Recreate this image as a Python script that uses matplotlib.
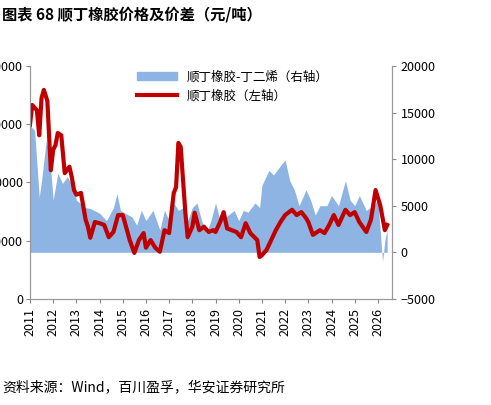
import matplotlib
matplotlib.use("Agg")
import matplotlib.pyplot as plt
from matplotlib.lines import Line2D

plt.rcParams['font.family'] = ['Noto Sans CJK SC', 'DejaVu Sans']

red_x = [2011.0,2011.1,2011.3,2011.4,2011.5,2011.6,2011.75,2011.9,2012.0,2012.1,2012.2,2012.35,2012.5,2012.7,2012.8,2012.9,
         2013.0,2013.2,2013.4,2013.5,2013.6,2013.8,2014.0,2014.2,2014.4,2014.6,2014.8,2015.0,2015.1,2015.3,2015.5,2015.7,2015.9,
         2016.0,2016.2,2016.4,2016.6,2016.8,2017.0,2017.2,2017.3,2017.4,2017.5,2017.6,2017.7,2017.8,2018.0,2018.1,2018.3,2018.5,
         2018.7,2018.9,2019.0,2019.2,2019.35,2019.5,2019.7,2019.9,2020.1,2020.3,2020.5,2020.7,2020.8,2020.9,2021.0,2021.2,2021.4,
         2021.6,2021.8,2022.0,2022.3,2022.5,2022.7,2022.9,2023.0,2023.2,2023.5,2023.7,2023.9,2024.1,2024.3,2024.6,2024.8,2025.0,
         2025.2,2025.5,2025.7,2025.9,2026.1,2026.3,2026.4]
red_y = [29900,33300,32400,28100,34500,35900,34000,22100,25600,26400,28500,28100,21600,22700,21000,18700,
         17900,18200,13600,12400,10500,13200,13000,12700,10600,11500,14400,14400,13000,10100,7900,10100,11300,
         8800,10100,8800,8100,11800,11300,18200,19200,26800,26100,20400,14800,10600,12400,14800,11800,12400,
         11500,11800,11500,13200,14900,12100,11800,11500,10600,13000,11300,10500,10100,7200,7500,8400,10100,
         11800,13200,14400,15300,14400,14900,13900,13200,11000,11800,11300,12700,14400,12700,15300,14400,14900,
         13200,11500,13600,18700,16100,11800,12700]

sp_x = [2011.0,2011.2,2011.4,2011.5,2011.7,2011.85,2012.0,2012.2,2012.4,2012.6,2012.9,2013.0,2013.4,2013.6,2014.0,2014.3,
        2014.6,2014.75,2014.9,2015.1,2015.4,2015.6,2015.8,2016.0,2016.3,2016.6,2016.8,2017.0,2017.2,2017.4,2017.6,2017.8,
        2018.0,2018.2,2018.4,2018.6,2018.8,2019.0,2019.2,2019.5,2019.8,2020.0,2020.2,2020.4,2020.7,2020.9,2021.0,2021.3,
        2021.5,2021.8,2022.0,2022.2,2022.4,2022.6,2022.9,2023.1,2023.3,2023.5,2023.8,2024.0,2024.3,2024.6,2024.8,2025.0,
        2025.2,2025.5,2025.8,2026.0,2026.2,2026.3,2026.4]
sp_y = [13600,13100,5900,7700,12000,10400,5600,8500,7400,8100,7000,5600,4800,4700,4200,3400,
        4800,6300,4500,4200,3800,2900,4500,3400,4500,2400,4500,3400,5300,4500,4800,3400,
        4800,5300,3400,2000,3400,5300,3400,3900,4500,3400,4500,4300,5300,4800,7200,8800,
        8300,9300,9900,7700,6700,5000,6700,5600,4000,5000,5000,6100,5000,7700,5600,5000,
        6100,4500,5000,5600,-1000,1300,2400]

years = list(range(2011, 2027))

fig = plt.figure(figsize=(4.91, 4.05), dpi=100)
ax = fig.add_axes([0.061, 0.262, 0.737, 0.575])
ax2 = ax.twinx()
ax.set_zorder(2); ax.patch.set_visible(False)

ax2.fill_between(sp_x, 0, sp_y, color='#8db4e2', lw=0)
ax.plot(red_x, red_y, color='#c00000', lw=3)

ax.set_xlim(2011, 2026.6)
ax.set_ylim(0, 40000)
ax.set_yticks(range(0, 40001, 10000))
ax2.set_ylim(-5000, 20000)
ax2.set_yticks(range(-5000, 20001, 5000))
ax.set_xticks(years)
ax.set_xticklabels([str(y) for y in years], rotation=90, fontsize=9)
for a in (ax, ax2):
    a.spines['top'].set_visible(False)
    a.tick_params(labelsize=9, color='#888888', length=3)
    for s in ('left', 'right', 'bottom'):
        a.spines[s].set_color('#999999')
ax.tick_params(axis='y', pad=2)

handles = [plt.Rectangle((0, 0), 1, 1, color='#8db4e2'), Line2D([], [], color='#c00000', lw=3)]
ax.legend(handles, ['顺丁橡胶-丁二烯（右轴）', '顺丁橡胶（左轴）'], loc='upper center',
          bbox_to_anchor=(0.56, 1.03), frameon=False, fontsize=9, handlelength=3.2)

fig.text(0.005, 0.965, '图表 68 顺丁橡胶价格及价差（元/吨）', fontsize=11, fontweight='bold', va='center')
fig.text(0.005, 0.045, '资料来源：Wind，百川盈孚，华安证券研究所', fontsize=10, va='center')

fig.savefig('out.png', dpi=100)
